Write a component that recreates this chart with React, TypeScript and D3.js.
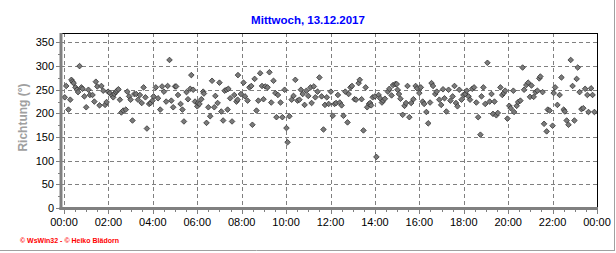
import React from "react";
import * as d3 from "d3";

const title = "Mittwoch, 13.12.2017";
const yTitle = "Richtung (°)";
const credit = "© WsWin32  -  © Heiko Blädorn";

const xTickLabels = ["00:00","02:00","04:00","06:00","08:00","10:00","12:00","14:00","16:00","18:00","20:00","22:00","00:00"];
const yTickValues = [0, 50, 100, 150, 200, 250, 300, 350];

// minutes after midnight
const times = [
  2,6,12,17,20,23,26,31,35,38,42,47,50,55,60,66,70,77,82,86,90,96,101,106,111,115,119,124,130,133,136,140,143,147,151,155,160,167,171,176,180,185,190,195,200,205,210,215,220,224,230,234,239,242,248,254,260,265,270,276,280,285,290,295,300,303,308,315,320,324,331,335,341,344,349,354,360,362,366,371,376,378,385,390,395,400,406,409,415,420,425,430,434,439,442,444,449,454,460,466,469,470,
  478,485,489,496,501,506,509,515,520,525,530,535,539,544,550,555,560,566,571,574,578,585,590,596,601,604,609,615,620,625,631,636,640,645,650,655,660,666,669,675,679,685,690,696,701,705,710,715,721,726,731,735,740,745,750,755,760,766,769,774,778,785,789,796,799,804,809,815,819,824,827,830,834,840,844,850,854,859,862,867,875,879,885,889,895,899,901,905,909,915,920,924,928,933,938,944,950,954,
  960,964,969,973,979,984,989,993,997,1003,1007,1014,1019,1024,1028,1033,1039,1044,1050,1055,1059,1063,1068,1074,1079,1084,1088,1093,1097,1103,1108,1114,1119,1125,1128,1133,1138,1144,1150,1155,1159,1163,1168,1172,1179,1184,1188,1192,1198,1203,1207,1214,1216,1223,1227,1233,1239,1243,1249,1254,1259,1263,1269,1274,1279,1284,1287,1293,1297,1304,1307,1312,1320,1323,1327,1333,1339,1344,1350,1353,1358,1363,1369,1374,1379,1385,1388,1393,1398,1403,1408,1414,1417,1424,1428,1433
];

// wind direction in degrees
const directions = [
  234,258,208,229,271,267,264,255,250,245,300,255,252,236,213,250,239,239,225,267,257,217,258,248,218,224,246,243,238,234,241,245,248,251,229,202,206,208,246,236,229,185,241,241,229,239,222,255,234,168,220,222,227,236,255,232,208,257,246,225,258,313,227,213,257,257,239,220,208,183,245,230,252,281,250,225,215,222,220,230,246,242,180,213,194,269,213,237,222,265,204,185,248,250,208,252,232,183,239,225,229,281,
  241,265,236,227,255,258,176,273,206,227,285,258,230,257,255,287,223,269,243,192,239,223,192,250,169,139,194,229,237,271,227,229,250,241,218,248,237,255,222,257,234,246,276,236,166,218,234,220,246,195,220,222,239,223,217,195,246,181,241,255,258,230,229,264,271,230,164,255,213,220,222,217,234,236,108,239,232,223,227,231,246,252,238,260,262,262,250,241,231,197,216,222,258,192,222,230,258,253,
  243,255,225,220,203,179,223,264,258,241,246,229,218,251,232,204,250,227,236,258,222,215,250,229,239,241,248,236,229,252,255,223,192,155,236,255,220,307,225,241,199,225,196,201,255,239,243,248,189,216,211,248,203,216,224,227,297,250,260,265,235,259,235,245,248,274,278,245,178,162,208,206,174,243,255,218,239,276,208,204,185,176,313,258,185,273,297,245,209,211,252,239,203,253,239,203
];

const W = 616;
const H = 253;
const plotLeft = 64;
const plotRight = 597;
const plotTop = 33;
const plotBottom = 208;
const axisX = 61;

export default function App() {
  const x = d3.scaleLinear().domain([0, 1440]).range([plotLeft, plotRight]);
  const y = d3.scaleLinear().domain([0, 370]).range([plotBottom, plotTop]);

  const majorX = d3.range(0, 1441, 120);
  const minorX = d3.range(0, 1441, 30).filter((m) => m % 120 !== 0);
  const minorY = d3.range(25, 370, 50);

  const font = "'Liberation Sans', Arial, sans-serif";
  const diamond = "M0,-2.8L2.8,0L0,2.8L-2.8,0Z";

  return (
    <svg
      width={W}
      height={H}
      style={{ position: "absolute", left: 0, top: 0, background: "#fff" }}
      fontFamily={font}
    >
      <rect x={0} y={0} width={W} height={H} fill="#fff" />
      {/* outer border */}
      <line x1={614.5} y1={0} x2={614.5} y2={251} stroke="#a0a0a0" strokeWidth={1} />
      <line x1={0} y1={250.5} x2={615} y2={250.5} stroke="#a0a0a0" strokeWidth={1} />

      {/* title */}
      <text x={308} y={24} textAnchor="middle" fontSize={11.5} fontWeight="bold" fill="#0000ff">
        {title}
      </text>

      {/* grid */}
      {yTickValues.filter((v) => v > 0).map((v) => (
        <line key={"gy" + v} x1={axisX} x2={plotRight} y1={Math.round(y(v)) + 0.5} y2={Math.round(y(v)) + 0.5}
          stroke="#808080" strokeDasharray="4 3" strokeWidth={1} />
      ))}
      {majorX.filter((m) => m > 0 && m < 1440).map((m) => (
        <line key={"gx" + m} x1={Math.round(x(m)) + 0.5} x2={Math.round(x(m)) + 0.5} y1={plotTop} y2={plotBottom}
          stroke="#808080" strokeDasharray="4 3" strokeWidth={1} />
      ))}
      <line x1={Math.round(x(0)) + 0.5} x2={Math.round(x(0)) + 0.5} y1={plotTop} y2={plotBottom}
        stroke="#808080" strokeDasharray="4 3" strokeWidth={1} />

      {/* frame top/right */}
      <line x1={axisX} x2={plotRight + 0.5} y1={plotTop + 0.5} y2={plotTop + 0.5} stroke="#000" strokeWidth={1} />
      <line x1={plotRight + 0.5} x2={plotRight + 0.5} y1={plotTop} y2={plotBottom} stroke="#000" strokeWidth={1} />

      {/* points */}
      {times.map((t, i) => (
        <path key={"p" + i} d={diamond} transform={`translate(${x(t)},${y(directions[i])})`}
          fill="#7a7a7a" stroke="#333" strokeWidth={0.8} />
      ))}

      {/* axes */}
      <line x1={axisX} x2={axisX} y1={plotTop} y2={plotBottom + 2} stroke="#808080" strokeWidth={3} />
      <line x1={axisX - 1.5} x2={plotRight + 1} y1={plotBottom + 0.5} y2={plotBottom + 0.5} stroke="#808080" strokeWidth={3} />

      {yTickValues.map((v) => (
        <g key={"yt" + v}>
          <line x1={axisX - 5} x2={axisX} y1={Math.round(y(v)) + 0.5} y2={Math.round(y(v)) + 0.5} stroke="#808080" strokeWidth={1} />
          <text x={54} y={y(v) + 4} textAnchor="end" fontSize={11} fill="#000">{v}</text>
        </g>
      ))}
      {minorY.map((v) => (
        <line key={"ym" + v} x1={axisX - 3} x2={axisX} y1={Math.round(y(v)) + 0.5} y2={Math.round(y(v)) + 0.5} stroke="#808080" strokeWidth={1} />
      ))}

      {majorX.map((m, i) => (
        <g key={"xt" + m}>
          <line x1={Math.round(x(m)) + 0.5} x2={Math.round(x(m)) + 0.5} y1={plotBottom} y2={plotBottom + 6} stroke="#808080" strokeWidth={1} />
          <text x={x(m)} y={226} textAnchor="middle" fontSize={11} fill="#000">{xTickLabels[i]}</text>
        </g>
      ))}
      {minorX.map((m) => (
        <line key={"xm" + m} x1={Math.round(x(m)) + 0.5} x2={Math.round(x(m)) + 0.5} y1={plotBottom} y2={plotBottom + 4} stroke="#808080" strokeWidth={1} />
      ))}

      {/* y title */}
      <text transform={`translate(27,${(plotTop + plotBottom) / 2 - 3}) rotate(-90)`} textAnchor="middle"
        fontSize={12} fontWeight="bold" fill="#a0a0a0">
        {yTitle}
      </text>

      {/* credit */}
      <text x={20} y={243} fontSize={7} fontWeight="bold" fill="#ff0000">{credit}</text>
    </svg>
  );
}
